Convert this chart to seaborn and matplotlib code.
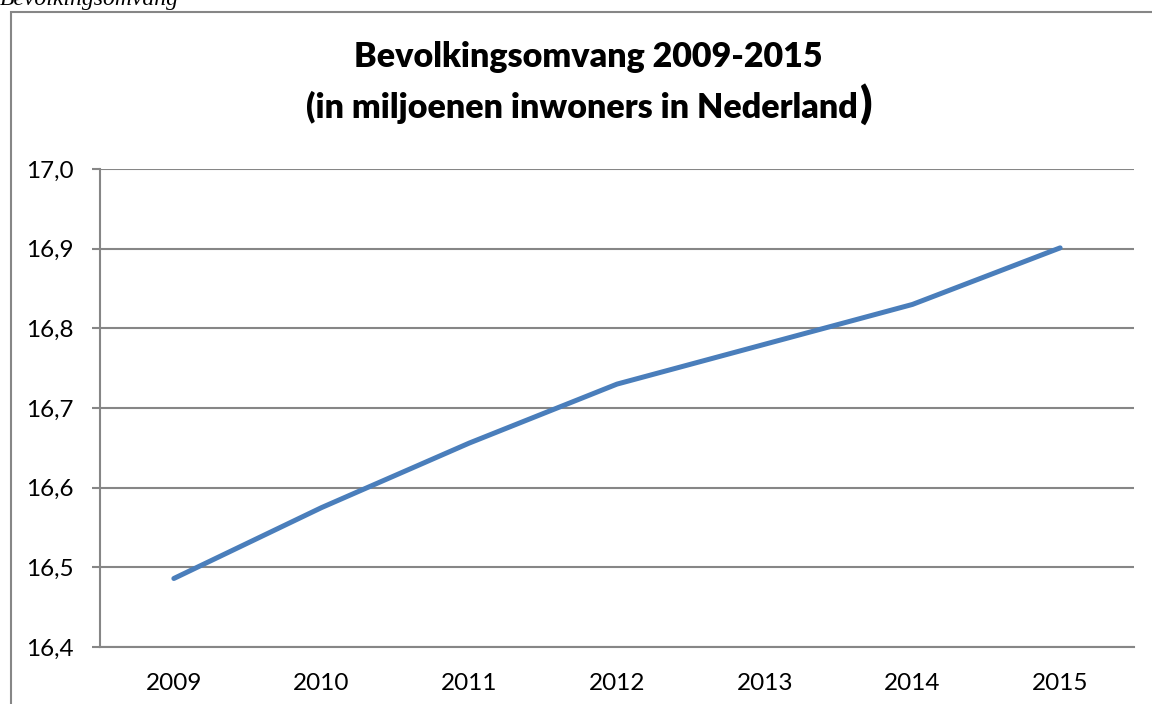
import matplotlib
matplotlib.use('Agg')
import numpy as np
import pandas as pd
import seaborn as sns
from matplotlib import pyplot as plt
from matplotlib.patches import Rectangle

# Population of the Netherlands (millions)
years = ['2009', '2010', '2011', '2012', '2013', '2014', '2015']
population = [16.486, 16.575, 16.656, 16.730, 16.780, 16.830, 16.901]
y_ticks = [16.4, 16.5, 16.6, 16.7, 16.8, 16.9, 17.0]

df = pd.DataFrame({'jaar': years, 'inwoners': population})
df['pos'] = np.arange(len(years))

sns.set_theme(style='white')
plt.rcParams['font.family'] = ['Lato', 'DejaVu Sans']

grey = '#868686'
fig = plt.figure(figsize=(11.52, 7.04), dpi=100)
ax = fig.add_axes([100 / 1152, 1 - 647 / 704, 1034 / 1152, 478 / 704])

# outer chart frame
fig.patches.append(Rectangle((11 / 1152, -0.05), 1.1, 1 - 12 / 704 + 0.05,
                             transform=fig.transFigure, fill=False,
                             edgecolor=grey, linewidth=1.5))
fig.text(0.0, 1 - 5 / 704, 'Bevolkingsomvang', family='Liberation Serif',
         style='italic', fontsize=17, ha='left', va='baseline', color='black')

sns.lineplot(data=df, x='pos', y='inwoners', ax=ax, color='#4A7EBB',
             linewidth=3.6, solid_capstyle='round')

ax.set_xlim(-0.5, len(years) - 0.5)
ax.set_ylim(16.4, 17.0)
ax.set_yticks(y_ticks)
ax.set_yticklabels([f'{v:.1f}'.replace('.', ',') for v in y_ticks])
ax.set_xticks(df['pos'])
ax.set_xticklabels(years)
ax.set_xticks(np.arange(len(years) + 1) - 0.5, minor=True)
ax.tick_params(axis='x', which='major', length=0, pad=19, labelsize=17.5, colors='black')
ax.tick_params(axis='x', which='minor', length=6, width=1.5, color=grey, direction='out')
ax.tick_params(axis='y', length=6, width=1.5, color=grey, direction='out', pad=13,
               labelsize=17.5, colors='black', left=True)
ax.yaxis.grid(True, color=grey, linewidth=1.5)
ax.set_axisbelow(True)
for side in ['top', 'right']:
    ax.spines[side].set_visible(False)
for side in ['left', 'bottom']:
    ax.spines[side].set_color(grey)
    ax.spines[side].set_linewidth(1.5)
ax.set_xlabel('')
ax.set_ylabel('')

fig.text(588 / 1152, 1 - 57 / 704, 'Bevolkingsomvang 2009-2015', fontsize=24.5,
         fontweight='heavy', ha='center', va='center', color='black')
line2 = fig.text(582 / 1152, 1 - 107 / 704, '(in miljoenen inwoners in Nederland',
                 fontsize=24.5, fontweight='heavy', ha='center', va='center', color='black')
fig.canvas.draw()
bb = line2.get_window_extent()
fig.text((bb.x1 + 2) / 1152, 1 - 104 / 704, ')', fontsize=32, fontweight='heavy',
         ha='left', va='center', color='black')

fig.savefig('out.png', dpi=100)
